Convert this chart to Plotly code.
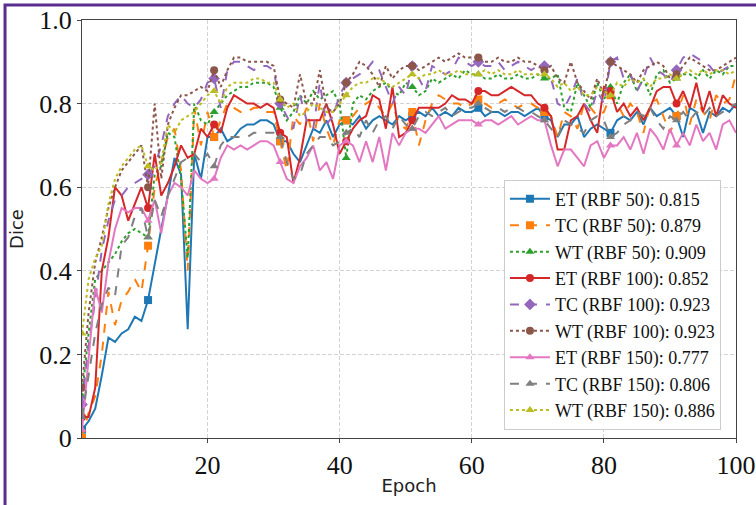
import plotly.graph_objects as go

epochs = list(range(1, 101))

et_50 = [0.02, 0.04, 0.07, 0.15, 0.24, 0.23, 0.25, 0.26, 0.29, 0.28,
         0.33, 0.42, 0.50, 0.58, 0.67, 0.63, 0.26, 0.68, 0.62, 0.72,
         0.72, 0.74, 0.71, 0.72, 0.74, 0.75, 0.75, 0.76, 0.76, 0.75,
         0.71, 0.71, 0.68, 0.66, 0.70, 0.74, 0.73, 0.76, 0.72, 0.75,
         0.76, 0.75, 0.77, 0.74, 0.76, 0.77, 0.76, 0.75, 0.77, 0.76,
         0.77, 0.78, 0.77, 0.79, 0.77, 0.78, 0.77, 0.79, 0.78, 0.78,
         0.79, 0.77, 0.78, 0.78, 0.77, 0.78, 0.78, 0.77, 0.78, 0.79,
         0.77, 0.76, 0.72, 0.75, 0.75, 0.77, 0.72, 0.74, 0.75, 0.74,
         0.73, 0.76, 0.77, 0.76, 0.78, 0.75, 0.79, 0.77, 0.78, 0.79,
         0.77, 0.72, 0.79, 0.78, 0.73, 0.78, 0.77, 0.79, 0.78, 0.80]
tc_50 = [0.00, 0.06, 0.10, 0.20, 0.35, 0.27, 0.33, 0.35, 0.38, 0.35,
         0.46, 0.60, 0.66, 0.72, 0.74, 0.64, 0.40, 0.79, 0.70, 0.78,
         0.72, 0.76, 0.80, 0.79, 0.78, 0.78, 0.79, 0.79, 0.78, 0.78,
         0.71, 0.64, 0.77, 0.75, 0.79, 0.71, 0.80, 0.74, 0.70, 0.76,
         0.76, 0.77, 0.79, 0.80, 0.81, 0.79, 0.77, 0.80, 0.75, 0.74,
         0.78, 0.70, 0.76, 0.80, 0.82, 0.81, 0.80, 0.80, 0.79, 0.80,
         0.81, 0.80, 0.79, 0.80, 0.81, 0.80, 0.79, 0.80, 0.80, 0.79,
         0.78, 0.77, 0.72, 0.78, 0.77, 0.74, 0.80, 0.79, 0.77, 0.78,
         0.82, 0.80, 0.77, 0.80, 0.78, 0.73, 0.80, 0.81, 0.77, 0.73,
         0.77, 0.82, 0.75, 0.81, 0.78, 0.76, 0.82, 0.80, 0.81, 0.87]
wt_50 = [0.10, 0.25, 0.38, 0.40, 0.42, 0.44, 0.47, 0.49, 0.50, 0.49,
         0.48, 0.63, 0.65, 0.73, 0.72, 0.62, 0.43, 0.80, 0.76, 0.75,
         0.78, 0.80, 0.82, 0.83, 0.84, 0.84, 0.85, 0.85, 0.85, 0.84,
         0.79, 0.76, 0.78, 0.82, 0.80, 0.83, 0.81, 0.82, 0.83, 0.80,
         0.67, 0.80, 0.82, 0.81, 0.83, 0.84, 0.85, 0.83, 0.82, 0.85,
         0.84, 0.82, 0.83, 0.86, 0.85, 0.86, 0.87, 0.86, 0.88, 0.87,
         0.87, 0.86, 0.86, 0.87, 0.86, 0.86, 0.87, 0.86, 0.86, 0.87,
         0.86, 0.86, 0.87, 0.79, 0.78, 0.85, 0.82, 0.79, 0.85, 0.81,
         0.84, 0.80, 0.85, 0.87, 0.83, 0.86, 0.82, 0.87, 0.88, 0.85,
         0.86, 0.87, 0.87, 0.86, 0.88, 0.86, 0.88, 0.87, 0.89, 0.89]
et_100 = [0.05, 0.05, 0.12, 0.40, 0.48, 0.60, 0.58, 0.52, 0.56, 0.60,
          0.55, 0.68, 0.58, 0.61, 0.65, 0.70, 0.67, 0.68, 0.74, 0.72,
          0.75, 0.73, 0.79, 0.82, 0.81, 0.80, 0.80, 0.79, 0.80, 0.79,
          0.73, 0.72, 0.61, 0.67, 0.76, 0.76, 0.76, 0.80, 0.75, 0.68,
          0.71, 0.74, 0.76, 0.77, 0.82, 0.81, 0.74, 0.84, 0.72, 0.73,
          0.76, 0.79, 0.79, 0.79, 0.79, 0.80, 0.82, 0.81, 0.81, 0.80,
          0.83, 0.83, 0.82, 0.82, 0.83, 0.84, 0.83, 0.82, 0.82, 0.80,
          0.79, 0.77, 0.69, 0.69, 0.76, 0.77, 0.80, 0.76, 0.73, 0.84,
          0.83, 0.78, 0.80, 0.77, 0.79, 0.76, 0.79, 0.83, 0.84, 0.84,
          0.80, 0.83, 0.79, 0.85, 0.78, 0.83, 0.77, 0.82, 0.80, 0.79]
tc_100 = [0.08, 0.22, 0.33, 0.45, 0.52, 0.57, 0.58, 0.60, 0.61, 0.62,
          0.63, 0.65, 0.70, 0.77, 0.80, 0.82, 0.80, 0.79, 0.81, 0.85,
          0.86, 0.79, 0.88, 0.90, 0.90, 0.89, 0.88, 0.89, 0.89, 0.88,
          0.80, 0.77, 0.74, 0.82, 0.76, 0.74, 0.85, 0.75, 0.77, 0.82,
          0.85, 0.86, 0.87, 0.88, 0.90, 0.88, 0.84, 0.80, 0.84, 0.82,
          0.89, 0.86, 0.83, 0.89, 0.88, 0.87, 0.88, 0.91, 0.90, 0.89,
          0.90, 0.89, 0.89, 0.90, 0.88, 0.89, 0.90, 0.89, 0.88, 0.89,
          0.89, 0.86, 0.80, 0.79, 0.82, 0.86, 0.80, 0.78, 0.83, 0.80,
          0.90, 0.91, 0.86, 0.87, 0.83, 0.86, 0.91, 0.88, 0.87, 0.85,
          0.88, 0.91, 0.92, 0.91, 0.90, 0.89, 0.87, 0.88, 0.89, 0.90]
wt_100 = [0.12, 0.30, 0.42, 0.48, 0.55, 0.60, 0.64, 0.66, 0.68, 0.70,
          0.60, 0.80, 0.62, 0.75, 0.79, 0.82, 0.82, 0.83, 0.84, 0.83,
          0.88, 0.84, 0.88, 0.91, 0.91, 0.90, 0.90, 0.90, 0.90, 0.89,
          0.81, 0.80, 0.79, 0.87, 0.80, 0.80, 0.88, 0.79, 0.78, 0.80,
          0.85, 0.87, 0.90, 0.89, 0.87, 0.84, 0.89, 0.86, 0.88, 0.89,
          0.89, 0.88, 0.89, 0.90, 0.91, 0.90, 0.91, 0.92, 0.91, 0.91,
          0.91, 0.90, 0.90, 0.91, 0.90, 0.90, 0.91, 0.90, 0.90, 0.89,
          0.88, 0.89, 0.86, 0.85, 0.90, 0.85, 0.83, 0.81, 0.86, 0.82,
          0.90, 0.89, 0.88, 0.87, 0.85, 0.88, 0.89, 0.90, 0.89, 0.86,
          0.87, 0.89, 0.91, 0.90, 0.89, 0.88, 0.88, 0.89, 0.90, 0.91]
et_150 = [0.02, 0.20, 0.36, 0.30, 0.42, 0.50, 0.55, 0.54, 0.55, 0.55,
          0.52, 0.57, 0.49, 0.58, 0.61, 0.60, 0.58, 0.64, 0.62, 0.61,
          0.62, 0.67, 0.70, 0.69, 0.70, 0.69, 0.70, 0.71, 0.71, 0.70,
          0.66, 0.62, 0.61, 0.65, 0.67, 0.70, 0.64, 0.66, 0.62, 0.70,
          0.71, 0.70, 0.66, 0.71, 0.66, 0.72, 0.64, 0.73, 0.70, 0.73,
          0.74, 0.74, 0.73, 0.75, 0.77, 0.74, 0.75, 0.76, 0.76, 0.76,
          0.75, 0.76, 0.76, 0.75, 0.76, 0.77, 0.75, 0.76, 0.77, 0.76,
          0.76, 0.70, 0.65, 0.69, 0.69, 0.67, 0.65, 0.70, 0.71, 0.67,
          0.70, 0.70, 0.72, 0.69, 0.73, 0.68, 0.74, 0.72, 0.69, 0.74,
          0.70, 0.73, 0.70, 0.75, 0.71, 0.73, 0.69, 0.75, 0.76, 0.73]
tc_150 = [0.05, 0.15, 0.25, 0.32, 0.36, 0.34, 0.46, 0.48, 0.53, 0.55,
          0.48, 0.57, 0.53, 0.58, 0.62, 0.66, 0.67, 0.68, 0.66, 0.68,
          0.65, 0.70, 0.72, 0.72, 0.72, 0.72, 0.73, 0.73, 0.73, 0.73,
          0.72, 0.66, 0.62, 0.63, 0.68, 0.70, 0.72, 0.72, 0.70, 0.71,
          0.73, 0.74, 0.72, 0.76, 0.73, 0.76, 0.77, 0.74, 0.77, 0.75,
          0.74, 0.77, 0.78, 0.77, 0.78, 0.79, 0.77, 0.78, 0.79, 0.79,
          0.80, 0.79, 0.78, 0.79, 0.78, 0.79, 0.79, 0.78, 0.78, 0.77,
          0.76, 0.74, 0.72, 0.76, 0.75, 0.74, 0.73, 0.76, 0.77, 0.76,
          0.72, 0.73, 0.75, 0.76, 0.78, 0.77, 0.79, 0.76, 0.74, 0.77,
          0.76, 0.78, 0.76, 0.78, 0.77, 0.79, 0.77, 0.78, 0.79, 0.80]
wt_150 = [0.25, 0.38, 0.43, 0.46, 0.56, 0.62, 0.65, 0.67, 0.69, 0.70,
          0.65, 0.64, 0.66, 0.75, 0.73, 0.76, 0.77, 0.78, 0.80, 0.82,
          0.83, 0.80, 0.84, 0.85, 0.85, 0.85, 0.86, 0.86, 0.85, 0.85,
          0.81, 0.79, 0.80, 0.77, 0.78, 0.80, 0.79, 0.78, 0.78, 0.80,
          0.82, 0.84, 0.85, 0.85, 0.86, 0.86, 0.85, 0.84, 0.85, 0.86,
          0.87, 0.86, 0.87, 0.87, 0.88, 0.87, 0.87, 0.88, 0.87, 0.87,
          0.87, 0.88, 0.87, 0.88, 0.87, 0.87, 0.88, 0.87, 0.87, 0.87,
          0.87, 0.86, 0.84, 0.85, 0.83, 0.84, 0.82, 0.82, 0.84, 0.83,
          0.82, 0.85, 0.84, 0.86, 0.85, 0.86, 0.84, 0.86, 0.86, 0.87,
          0.86, 0.87, 0.88, 0.87, 0.88, 0.87, 0.88, 0.88, 0.87, 0.88]

labels = ["ET (RBF 50): 0.815", "TC (RBF 50): 0.879", "WT (RBF 50): 0.909",
          "ET (RBF 100): 0.852", "TC (RBF 100): 0.923", "WT (RBF 100): 0.923",
          "ET (RBF 150): 0.777", "TC (RBF 150): 0.806", "WT (RBF 150): 0.886"]
series = [et_50, tc_50, wt_50, et_100, tc_100, wt_100, et_150, tc_150, wt_150]

colors = ["#1f77b4", "#ff7f0e", "#2ca02c", "#d62728", "#9467bd",
          "#8c564b", "#e377c2", "#7f7f7f", "#bcbd22"]
dashes = ["solid", "dash", "dot"] * 3
symbols = ["square", "square", "triangle-up", "circle", "diamond",
           "circle", "triangle-up", "triangle-up", "triangle-up"]

SERIF = "'Times New Roman', 'Liberation Serif', Tinos, serif"
SANS = "'DejaVu Sans', 'Liberation Sans', sans-serif"

fig = go.Figure()
for vals, lab, col, dsh, sym in zip(series, labels, colors, dashes, symbols):
    fig.add_trace(go.Scatter(x=epochs, y=vals, mode="lines",
                             line=dict(color=col, width=2, dash=dsh),
                             showlegend=False, hoverinfo="skip"))
    mx, my = [], []
    for i in range(0, len(epochs), 10):
        mx += [epochs[i], None]
        my += [vals[i], None]
    fig.add_trace(go.Scatter(x=mx, y=my, mode="lines+markers", name=lab,
                             connectgaps=False,
                             line=dict(color=col, width=2, dash=dsh),
                             marker=dict(symbol=sym, size=8 if sym != "diamond" else 9,
                                         color=col)))

axis_common = dict(showline=True, linecolor="#444444", linewidth=1.2, mirror=True,
                   showgrid=True, gridcolor="#d3d3d3", griddash="4px,2px", gridwidth=0.8,
                   zeroline=False, ticks="outside", ticklen=4, tickcolor="#444444",
                   automargin=False,
                   tickfont=dict(family=SERIF, size=26, color="#111111"))

fig.update_xaxes(range=[1, 100], tickvals=[20, 40, 60, 80, 100],
                 title=dict(text="Epoch", font=dict(family=SANS, size=18, color="#222222"),
                            standoff=0),
                 **axis_common)
fig.update_yaxes(range=[0, 1], tickvals=[0, 0.2, 0.4, 0.6, 0.8, 1.0],
                 ticktext=["0", "0.2", "0.4", "0.6", "0.8", "1.0"],
                 title=dict(text="Dice", font=dict(family=SANS, size=18, color="#222222"),
                            standoff=10),
                 **axis_common)

fig.update_layout(
    width=756, height=505,
    margin=dict(l=82, r=20, t=20, b=67),
    plot_bgcolor="white", paper_bgcolor="white",
    legend=dict(x=0.977, y=0.02, xanchor="right", yanchor="bottom",
                bgcolor="rgba(255,255,255,0.9)", bordercolor="#cccccc", borderwidth=1,
                font=dict(family=SERIF, size=18, color="#111111"),
                itemwidth=40, tracegroupgap=0),
    shapes=[dict(type="rect", xref="paper", yref="paper",
                 x0=-0.1177, x1=1.2, y0=-0.3, y1=1.0359,
                 line=dict(color="#5b2d8f", width=3), layer="above")],
    showlegend=True,
)

fig.write_html("out.html", config={"displayModeBar": False},
               post_script="document.body.style.margin='0';document.body.style.overflow='hidden';")
